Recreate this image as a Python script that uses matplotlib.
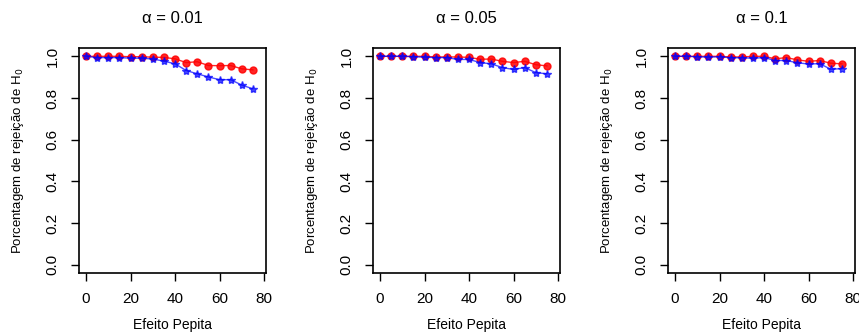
import matplotlib
matplotlib.use("Agg")
import matplotlib.pyplot as plt

plt.rcParams['font.family'] = ['Liberation Sans', 'DejaVu Sans']

efeito = [0, 5, 10, 15, 20, 25, 30, 35, 40, 45, 50, 55, 60, 65, 70, 75]
alphas = ["0.01", "0.05", "0.1"]

red_001 = [1.0, 1.0, 1.0, 1.0, 0.998, 0.998, 0.996, 0.995, 0.988, 0.970, 0.974, 0.956, 0.955, 0.956, 0.940, 0.935]
blue_001 = [1.0, 0.994, 0.994, 0.994, 0.991, 0.991, 0.987, 0.977, 0.964, 0.932, 0.916, 0.901, 0.888, 0.888, 0.862, 0.844]
red_005 = [1.0, 1.0, 1.0, 1.0, 1.0, 0.997, 0.997, 0.997, 0.995, 0.986, 0.987, 0.976, 0.970, 0.976, 0.960, 0.954]
blue_005 = [1.0, 1.0, 1.0, 0.998, 0.996, 0.994, 0.994, 0.985, 0.985, 0.970, 0.964, 0.946, 0.937, 0.946, 0.922, 0.916]
red_01 = [1.0, 1.0, 1.0, 1.0, 1.0, 0.997, 0.997, 1.0, 1.0, 0.988, 0.994, 0.983, 0.976, 0.980, 0.967, 0.964]
blue_01 = [1.0, 1.0, 0.998, 0.996, 0.998, 0.993, 0.993, 0.991, 0.994, 0.980, 0.980, 0.969, 0.963, 0.965, 0.938, 0.941]

reds = [red_001, red_005, red_01]
blues = [blue_001, blue_005, blue_01]

W, H = 859, 335
fig = plt.figure(figsize=(W / 100, H / 100), dpi=100)
lefts = [79, 373, 668]
top, bottom = 48, 273
width = 187

for i in range(3):
    ax = fig.add_axes([lefts[i] / W, (H - bottom) / H, width / W, (bottom - top) / H])
    ax.plot(efeito, reds[i], "-o", color="red", ms=5, lw=1, alpha=0.85)
    ax.plot(efeito, blues[i], "-*", color="blue", ms=6, lw=1, alpha=0.7)
    ax.set_xlim(-3.2, 80.9)
    ax.set_ylim(-0.04, 1.04)
    ax.set_xticks([0, 20, 40, 60, 80])
    ax.set_yticks([0.0, 0.2, 0.4, 0.6, 0.8, 1.0])
    ax.set_yticklabels(["0.0", "0.2", "0.4", "0.6", "0.8", "1.0"], rotation=90, va="center")
    ax.tick_params(labelsize=11, length=6, width=1, pad=8)
    for s in ax.spines.values():
        s.set_linewidth(1.2)
    ax.set_title("α = " + alphas[i], fontsize=12, pad=18)
    ax.set_xlabel("Efeito Pepita", fontsize=10, labelpad=8)
    ax.set_ylabel("Porcentagem de rejeição de H$_0$", fontsize=9.5, labelpad=14)

fig.savefig("out.png", dpi=100)
